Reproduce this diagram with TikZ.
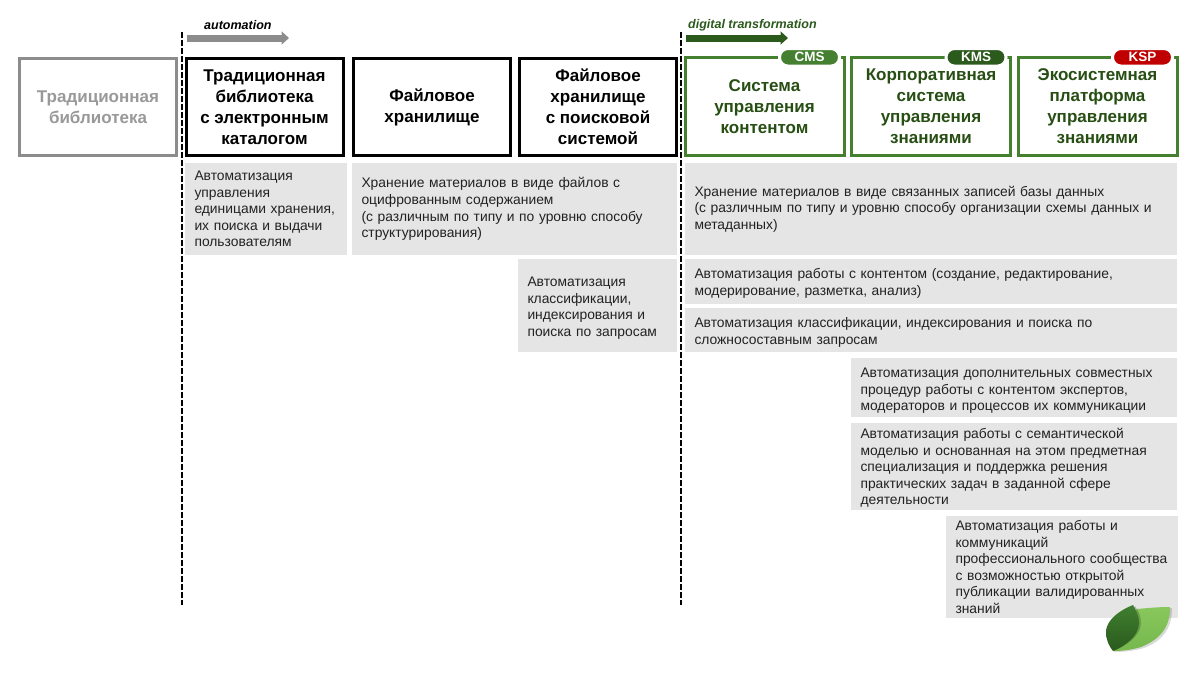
\documentclass[tikz,border=0pt]{standalone}
\usepackage{fontspec}
\setmainfont{Liberation Sans}
\usetikzlibrary{arrows.meta}
\definecolor{dkgreen}{HTML}{274E13}
\definecolor{boxgreen}{HTML}{458030}
\definecolor{leaflight}{HTML}{88C75C}
\definecolor{leaflow}{HTML}{76B84E}
\definecolor{leafdark}{HTML}{3F7F30}
\definecolor{leafdeep}{HTML}{2B5A1C}
\definecolor{fade}{HTML}{999999}
\definecolor{fadeline}{HTML}{8C8C8C}
\definecolor{blockgray}{HTML}{E5E5E5}
\definecolor{redbadge}{HTML}{C00000}
\definecolor{bodyink}{HTML}{222222}
\newcommand{\headfont}{\fontsize{17}{21}\selectfont\bfseries}
\newcommand{\bodyfont}{\fontsize{13.85}{16.6}\selectfont}
\newcommand{\lift}[1]{\rule{0pt}{#1pt}}
\tikzset{
 x=1pt,y=-1pt,
 headbox/.style={anchor=north west,minimum width=157pt,minimum height=97pt,line width=3pt,align=center,font=\headfont,inner sep=0pt,outer sep=0pt},
 blackbox/.style={headbox,draw=black,text=black},
 fadebox/.style={headbox,draw=fadeline,text=fade},
 greenbox/.style={headbox,minimum width=159pt,minimum height=98.5pt,draw=boxgreen,text=dkgreen},
 textblock/.style={anchor=north west,fill=blockgray,align=left,font=\bodyfont,inner xsep=9.5pt,inner ysep=0pt,outer sep=0pt,text=bodyink},
 badge/.style={anchor=center,rounded corners=8.5pt,minimum width=60pt,minimum height=17.5pt,inner sep=0pt,outer sep=0pt,text=white,font=\fontsize{13.5}{14}\selectfont\bfseries,draw=white,line width=3pt,fill=#1},
 tagline/.style={font=\fontsize{12.5}{14}\selectfont\itshape\bfseries,anchor=west,inner sep=0pt},
 period/.style={line width=1.6pt,dash pattern=on 5.5pt off 2.5pt,black},
 trend/.style={line width=7pt,-{Triangle[length=7.5pt,width=13pt]}},
}
\begin{document}
\begin{tikzpicture}
\useasboundingbox (0,0) rectangle (1200,675);
\fill[white] (0,0) rectangle (1200,675);

\coordinate (d1a) at (182,32);
\coordinate (d1b) at (182,605);
\coordinate (d2a) at (681,32);
\coordinate (d2b) at (681,605);

% text blocks
\node[textblock,minimum width=162pt,minimum height=92pt,text width=143pt] (t1) at (185,163) {Автоматизация\\управления\\единицами хранения,\\их поиска и выдачи\\пользователям};
\node[textblock,minimum width=325pt,minimum height=92pt,text width=306pt] (t2) at (352,163) {Хранение материалов в виде файлов с\\оцифрованным содержанием\\(с различным по типу и по уровню способу\\структурирования)};
\node[textblock,minimum width=492pt,minimum height=92pt,text width=473pt] (t3) at (685,163) {Хранение материалов в виде связанных записей базы данных\\(с различным по типу и уровню способу организации схемы данных и\\метаданных)};
\node[textblock,minimum width=159pt,minimum height=93pt,text width=140pt] (t4) at (518,259) {\lift{15}Автоматизация\\классификации,\\индексирования и\\поиска по запросам};
\node[textblock,minimum width=492pt,minimum height=45pt,text width=473pt] (t5) at (685,259) {\lift{14}Автоматизация работы с контентом (создание, редактирование,\\модерирование, разметка, анализ)};
\node[textblock,minimum width=492pt,minimum height=44pt,text width=473pt] (t6) at (685,308) {\lift{15}Автоматизация классификации, индексирования и поиска по\\сложносоставным запросам};
\node[textblock,minimum width=326pt,minimum height=59pt,text width=307pt] (t7) at (851,358) {\lift{16}Автоматизация дополнительных совместных\\процедур работы с контентом экспертов,\\модераторов и процессов их коммуникации};
\node[textblock,minimum width=326pt,minimum height=87pt,text width=307pt] (t8) at (851,423) {\lift{13}Автоматизация работы с семантической\\моделью и основанная на этом предметная\\специализация и поддержка решения\\практических задач в заданной сфере\\деятельности};
\node[textblock,minimum width=232pt,minimum height=102pt,text width=213pt] (t9) at (946,516) {Автоматизация работы и\\коммуникаций\\профессионального сообщества\\с возможностью открытой\\публикации валидированных\\знаний};

% header boxes
\node[fadebox] (b0) at (19.5,58.5) {Традиционная\\библиотека};
\node[blackbox] (b1) at (186,58.5) {Традиционная\\библиотека\\с электронным\\каталогом};
\node[blackbox] (b2) at (353.5,58.5) {Файловое\\хранилище};
\node[blackbox] (b3) at (519.5,58.5) {Файловое\\хранилище\\с поисковой\\системой};
\node[greenbox] (b4) at (685,57) {Система\\управления\\контентом};
\node[greenbox] (b5) at (851.5,57) {Корпоративная\\система\\управления\\знаниями};
\node[greenbox] (b6) at (1018,57) {Экосистемная\\платформа\\управления\\знаниями};

% badges
\node[badge=boxgreen] (s1) at (809.5,57.3) {CMS};
\node[badge=leafdeep] (s2) at (976,57.3) {KMS};
\node[badge=redbadge] (s3) at (1142.5,57.3) {KSP};

% period markers
\draw[period] (d1a) -- (d1b);
\draw[period] (d2a) -- (d2b);

\coordinate (a1a) at (187,38);
\coordinate (a1b) at (289,38);
\coordinate (a2a) at (686,38);
\coordinate (a2b) at (788,38);
\draw[trend,draw=fadeline,fill=fadeline] (a1a) -- (a1b);
\draw[trend,draw=leafdeep,fill=leafdeep] (a2a) -- (a2b);
\node[tagline,text=black] (l1) at (204,25.5) {automation};
\node[tagline,text=leafdeep] (l2) at (688,25.5) {digital transformation};

% leaf
\fill[black,opacity=.15] (1139,610) .. controls (1150,609) and (1160,608) .. (1172,608) .. controls (1172,626) and (1165,640) .. (1144,648) .. controls (1133,651) and (1124,652) .. (1114,652) -- cycle;
\shade[top color=leaflight,bottom color=leaflow]
 (1137,609) .. controls (1148,608) and (1158,607) .. (1170,607) .. controls (1170,625) and (1163,638) .. (1141,647) .. controls (1131,650) and (1122,651) .. (1113,651) -- cycle;
\fill[black,opacity=.2] (1135,606) .. controls (1139,611) and (1141,617) .. (1141,623) .. controls (1141,635) and (1127,646) .. (1113,651) -- cycle;
\shade[top color=leafdark,bottom color=leafdeep]
 (1133,605) .. controls (1120,610) and (1106,620) .. (1106,632) .. controls (1106,640) and (1109,646) .. (1113,651) .. controls (1125,646) and (1139,636) .. (1139,623) .. controls (1139,616) and (1136,610) .. (1133,605) -- cycle;
\end{tikzpicture}
\end{document}
